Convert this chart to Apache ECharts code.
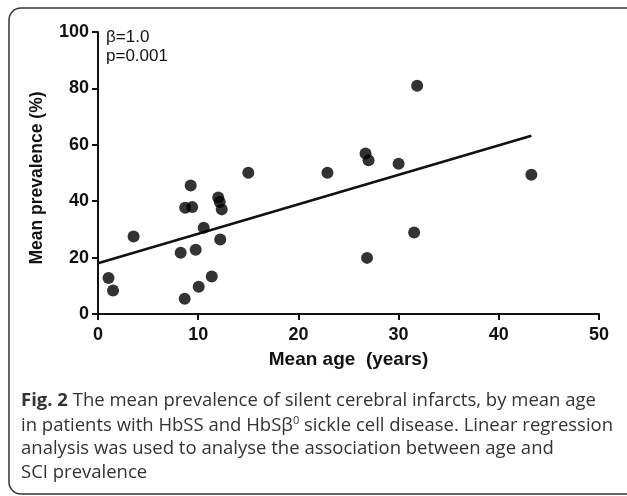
<!DOCTYPE html>
<html>
<head>
<meta charset="utf-8">
<script src="https://cdn.jsdelivr.net/npm/echarts@6/dist/echarts.min.js"></script>
<style>
html,body{margin:0;padding:0;background:#fff;}
#c{width:627px;height:496px;}
</style>
</head>
<body>
<div id="c"></div>
<script>
// Data
var meanAge = [1.05, 1.5, 3.55, 8.25, 8.65, 8.7, 9.25, 9.4, 9.75, 10.05, 10.55, 11.35, 12.0, 12.15, 12.35, 12.2, 15.0, 22.9, 26.7, 27.0, 26.85, 30.0, 31.85, 31.55, 43.25];
var meanPrev = [12.8, 8.3, 27.5, 21.7, 5.4, 37.7, 45.6, 37.9, 22.8, 9.7, 30.6, 13.3, 41.3, 39.7, 37.1, 26.4, 50.1, 50.1, 56.9, 54.5, 19.9, 53.3, 80.9, 28.9, 49.4];
var fitAge = [0, 43.25];
var fitPrev = [18.0, 63.2];
var xTicks = [0, 10, 20, 30, 40, 50];
var yTicks = [0, 20, 40, 60, 80, 100];
var xName = 'Mean age  (years)';
var yName = 'Mean prevalence (%)';
var statLines = ['β=1.0', 'p=0.001'];
var captionLines = [
  '{b|Fig. 2} The mean prevalence of silent cerebral infarcts, by mean age',
  'in patients with HbSS and HbSβ{s|0} sickle cell disease. Linear regression',
  'analysis was used to analyse the association between age and',
  'SCI prevalence'
];

var pts = meanAge.map(function (x, i) { return [x, meanPrev[i]]; });
var fit = fitAge.map(function (x, i) { return [x, fitPrev[i]]; });

var chart = echarts.init(document.getElementById('c'));
var axisFont = 'Liberation Sans, Arial, sans-serif';
var capFont = 'Open Sans, sans-serif';
var capSize = 18.5;
var capStyle = {
  a: { fontFamily: capFont, fontSize: capSize, color: '#333', lineHeight: 24 },
  b: { fontFamily: capFont, fontSize: capSize, fontWeight: 'bold', color: '#111', lineHeight: 24 },
  s: { fontFamily: capFont, fontSize: 11, color: '#333', lineHeight: 24, padding: [0, 0, 11, 0] }
};
var graphics = [
  { type: 'rect', shape: { x: 9, y: 8, width: 660, height: 486, r: 12 },
    style: { fill: 'none', stroke: '#333', lineWidth: 1.5 }, z: 0 }
];
statLines.forEach(function (t, i) {
  graphics.push({ type: 'text', left: 106, top: 29 + i * 19,
    style: { text: t, fontFamily: axisFont, fontSize: 17, fill: '#111' } });
});
captionLines.forEach(function (t, i) {
  graphics.push({ type: 'text', left: 21, top: 391 + i * 24,
    style: { text: t, rich: capStyle, fontFamily: capFont, fontSize: capSize, fill: '#333' } });
});

chart.setOption({
  animation: false,
  backgroundColor: '#fff',
  grid: { left: 98, right: 28, top: 32, bottom: 182 },
  xAxis: {
    type: 'value', min: 0, max: 50, interval: 10,
    name: xName, nameLocation: 'middle', nameGap: 36,
    nameTextStyle: { fontFamily: axisFont, fontSize: 19, fontWeight: 'bold', color: '#111' },
    axisLine: { show: true, onZero: false, lineStyle: { color: '#111', width: 2 } },
    axisTick: { show: true, length: 6, lineStyle: { color: '#111', width: 2 } },
    axisLabel: { margin: 12, fontFamily: axisFont, fontSize: 18, fontWeight: 'bold', color: '#111',
      formatter: function (v) { return xTicks.indexOf(v) >= 0 ? String(v) : ''; } },
    splitLine: { show: false }
  },
  yAxis: {
    type: 'value', min: 0, max: 100, interval: 20,
    name: yName, nameLocation: 'middle', nameGap: 52,
    nameTextStyle: { fontFamily: axisFont, fontSize: 17.5, fontWeight: 'bold', color: '#111', padding: [0, 10, 0, 0] },
    axisLine: { show: true, onZero: false, lineStyle: { color: '#111', width: 2 } },
    axisTick: { show: true, length: 6, lineStyle: { color: '#111', width: 2 } },
    axisLabel: { margin: 9, fontFamily: axisFont, fontSize: 18, fontWeight: 'bold', color: '#111',
      formatter: function (v) { return yTicks.indexOf(v) >= 0 ? String(v) : ''; } },
    splitLine: { show: false }
  },
  series: [
    { type: 'line', data: fit, symbol: 'none', lineStyle: { color: '#111', width: 2.5 }, z: 2 },
    { type: 'scatter', data: pts, symbol: 'circle', symbolSize: 12, itemStyle: { color: '#000' }, z: 3 }
  ],
  graphic: graphics
});
</script>
</body>
</html>
